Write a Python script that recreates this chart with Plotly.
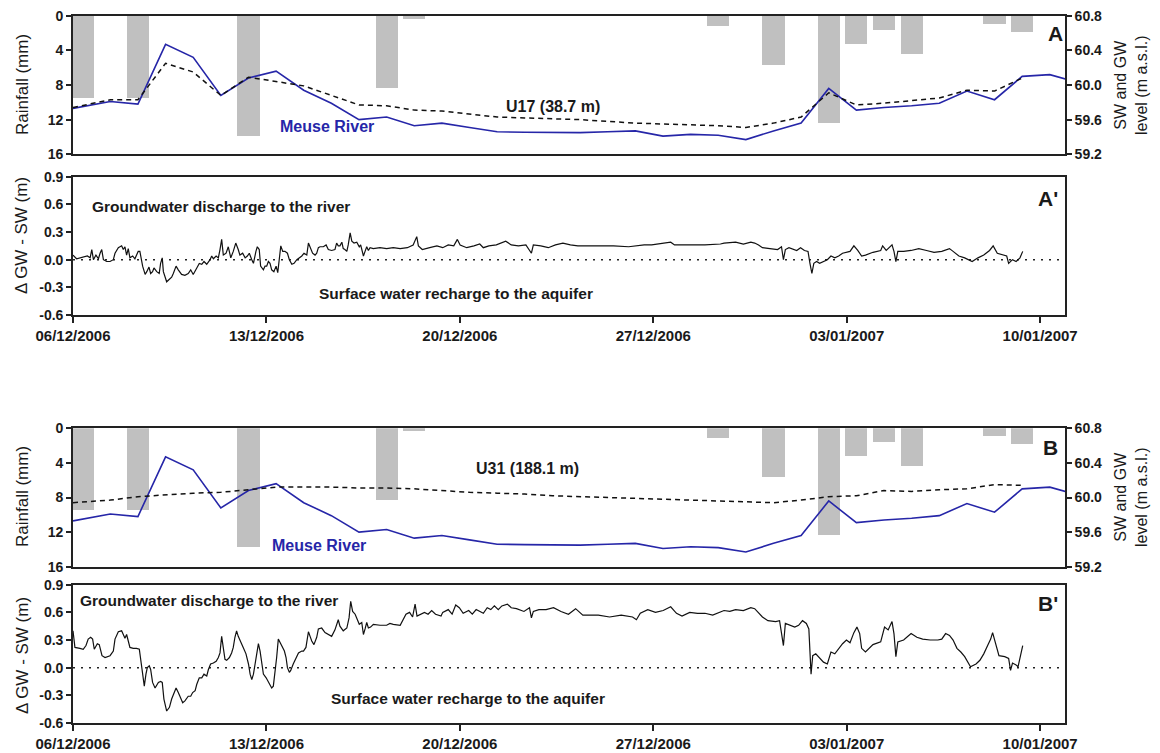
import pandas as pd
import plotly.graph_objects as go

# ---------------------------------------------------------------- data
START = pd.Timestamp("2006-12-06")
END = START + pd.Timedelta(days=35.9)

# daily rainfall (mm), day index counted from 06/12/2006
rain_day = [0, 2, 6, 11, 12, 23, 25, 27, 28, 29, 30, 33, 34]
rain_mm = [9.5, 9.5, 13.8, 8.3, 0.3, 1.2, 5.7, 12.4, 3.2, 1.65, 4.35, 0.9, 1.9]

# daily Meuse River stage (m a.s.l.), days 0..36
river_level = [59.73, 59.81, 59.78, 60.47, 60.32, 59.88, 60.08, 60.16, 59.94, 59.79,
               59.60, 59.63, 59.53, 59.56, 59.51, 59.46, 59.455, 59.45, 59.45, 59.46,
               59.47, 59.41, 59.43, 59.42, 59.37, 59.47, 59.56, 59.96, 59.71, 59.74,
               59.76, 59.79, 59.93, 59.83, 60.10, 60.12, 60.03]

# daily groundwater heads (m a.s.l.), days 0..34
gw_u17 = [59.74, 59.83, 59.83, 60.25, 60.15, 59.88, 60.09, 60.04, 59.99, 59.88,
          59.77, 59.76, 59.71, 59.70, 59.665, 59.63, 59.62, 59.61, 59.60, 59.58,
          59.56, 59.55, 59.54, 59.53, 59.51, 59.56, 59.63, 59.91, 59.77, 59.79,
          59.82, 59.85, 59.94, 59.93, 60.08]
gw_u31 = [59.94, 59.97, 60.01, 60.03, 60.05, 60.06, 60.09, 60.12, 60.12, 60.12,
          60.11, 60.11, 60.10, 60.08, 60.06, 60.05, 60.04, 60.02, 60.01, 60.00,
          59.99, 59.98, 59.97, 59.96, 59.95, 59.94, 59.97, 60.01, 60.02, 60.08,
          60.07, 60.09, 60.10, 60.15, 60.14]

# high-frequency head difference GW - SW (m), time in days since 06/12/2006
dh_u17_day = [0.0, 0.13, 0.52, 0.62, 0.68, 0.74, 0.83, 0.92, 0.98, 1.04,
              1.10, 1.22, 1.34, 1.46, 1.52, 1.64, 1.76, 1.82, 1.88, 1.94,
              2.00, 2.06, 2.16, 2.24, 2.36, 2.42, 2.52, 2.61, 2.67, 2.75,
              2.81, 2.88, 2.93, 3.03, 3.12, 3.17, 3.23, 3.27, 3.39, 3.48,
              3.57, 3.63, 3.73, 3.81, 3.93, 4.05, 4.17, 4.26, 4.35, 4.48,
              4.57, 4.66, 4.74, 4.84, 4.96, 5.02, 5.08, 5.18, 5.26, 5.32,
              5.38, 5.44, 5.54, 5.62, 5.71, 5.80, 5.89, 5.98, 6.04, 6.14,
              6.23, 6.31, 6.38, 6.47, 6.53, 6.62, 6.67, 6.74, 6.79, 6.89,
              6.95, 7.01, 7.07, 7.13, 7.19, 7.27, 7.35, 7.41, 7.47, 7.52,
              7.59, 7.67, 7.76, 7.83, 7.92, 8.00, 8.10, 8.19, 8.28, 8.36,
              8.46, 8.52, 8.58, 8.67, 8.76, 8.82, 8.88, 8.94, 9.06, 9.16,
              9.24, 9.36, 9.48, 9.54, 9.60, 9.66, 9.73, 9.78, 9.84, 9.91,
              9.96, 10.03, 10.09, 10.17, 10.27, 10.36, 10.41, 10.51, 10.57, 10.63,
              10.69, 10.75, 10.87, 11.11, 11.35, 11.59, 11.84, 12.10, 12.31, 12.44,
              12.50, 12.64, 12.91, 13.17, 13.38, 13.58, 13.78, 13.91, 14.01, 14.25,
              14.51, 14.72, 14.85, 15.05, 15.32, 15.52, 15.66, 15.86, 16.12, 16.39,
              16.59, 16.66, 16.93, 17.20, 17.46, 17.73, 18.00, 18.27, 18.45, 19.01,
              19.56, 20.11, 20.39, 20.67, 20.94, 21.22, 21.63, 21.77, 22.32, 22.87,
              23.43, 23.56, 23.98, 24.26, 24.53, 24.67, 24.81, 24.95, 25.22, 25.50,
              25.64, 25.71, 25.78, 25.91, 26.19, 26.33, 26.47, 26.60, 26.67, 26.74,
              26.81, 26.91, 27.02, 27.16, 27.30, 27.43, 27.57, 27.71, 27.85, 28.12,
              28.26, 28.40, 28.54, 28.68, 28.95, 29.23, 29.30, 29.43, 29.64, 29.71,
              29.78, 29.85, 30.06, 30.33, 30.61, 30.89, 31.16, 31.44, 31.72, 31.85,
              32.06, 32.27, 32.41, 32.54, 32.75, 32.96, 33.17, 33.30, 33.45, 33.65,
              33.79, 33.86, 34.00, 34.13, 34.27, 34.37]
dh_u17 = [0.05, 0.01, 0.04, 0.02, 0.11, 0.0, 0.05, 0.01, 0.07, 0.11,
          0.0, -0.02, -0.02, 0.0, 0.07, 0.13, 0.15, 0.11, 0.14, 0.05,
          0.12, 0.02, 0.04, 0.01, 0.09, 0.09, -0.07, -0.16, -0.13, -0.08,
          -0.15, -0.13, -0.09, -0.13, -0.15, -0.04, 0.02, -0.13, -0.24, -0.22,
          -0.19, -0.15, -0.07, -0.11, -0.16, -0.17, -0.15, -0.11, -0.16, -0.09,
          -0.04, -0.05, -0.02, -0.05, 0.0, 0.04, 0.01, 0.04, 0.02, 0.11,
          0.22, 0.05, 0.07, 0.14, 0.02, 0.09, 0.18, 0.11, 0.05, 0.07,
          0.02, 0.04, 0.07, 0.0, -0.04, 0.09, 0.14, 0.11, -0.07, -0.11,
          -0.07, -0.07, -0.02, -0.04, -0.11, -0.13, -0.07, -0.14, 0.07, 0.15,
          0.09, 0.09, 0.07, 0.0, -0.05, -0.04, 0.0, 0.02, 0.04, 0.07,
          0.05, 0.18, 0.14, 0.07, 0.05, 0.07, 0.13, 0.14, 0.14, 0.16,
          0.11, 0.10, 0.11, 0.18, 0.15, 0.15, 0.19, 0.12, 0.11, 0.09,
          0.16, 0.29, 0.20, 0.18, 0.19, 0.14, 0.16, 0.04, 0.09, 0.14,
          0.10, 0.13, 0.12, 0.13, 0.12, 0.13, 0.12, 0.13, 0.16, 0.25,
          0.15, 0.11, 0.13, 0.15, 0.13, 0.16, 0.15, 0.22, 0.16, 0.13,
          0.15, 0.17, 0.13, 0.15, 0.16, 0.18, 0.20, 0.16, 0.15, 0.16,
          0.07, 0.16, 0.15, 0.13, 0.16, 0.18, 0.16, 0.15, 0.15, 0.15,
          0.15, 0.14, 0.15, 0.16, 0.16, 0.17, 0.19, 0.16, 0.16, 0.16,
          0.17, 0.18, 0.19, 0.17, 0.19, 0.18, 0.16, 0.13, 0.12, 0.11,
          0.14, 0.0, 0.11, 0.13, 0.10, 0.13, 0.10, 0.09, -0.04, -0.15,
          -0.04, -0.02, -0.04, -0.02, 0.0, 0.04, 0.02, 0.04, 0.07, 0.09,
          0.15, 0.10, 0.04, 0.05, 0.08, 0.10, 0.15, 0.10, 0.16, 0.09,
          -0.02, 0.09, 0.09, 0.10, 0.12, 0.10, 0.08, 0.09, 0.12, 0.09,
          0.04, 0.02, 0.0, -0.02, 0.02, 0.05, 0.10, 0.15, 0.07, 0.05,
          0.04, -0.04, 0.0, -0.02, 0.02, 0.09]

dh_u31_day = [0.0, 0.07, 0.25, 0.37, 0.47, 0.55, 0.64, 0.71, 0.77, 0.83,
              0.88, 0.95, 1.00, 1.05, 1.16, 1.34, 1.46, 1.52, 1.64, 1.76,
              1.82, 1.88, 1.94, 2.00, 2.06, 2.18, 2.30, 2.40, 2.48, 2.55,
              2.58, 2.64, 2.69, 2.76, 2.81, 2.88, 2.97, 3.09, 3.17, 3.23,
              3.29, 3.39, 3.49, 3.57, 3.66, 3.73, 3.81, 3.90, 3.97, 4.05,
              4.17, 4.26, 4.33, 4.42, 4.48, 4.57, 4.66, 4.74, 4.84, 4.90,
              4.98, 5.08, 5.18, 5.26, 5.32, 5.38, 5.44, 5.50, 5.56, 5.66,
              5.74, 5.80, 5.86, 5.92, 5.98, 6.07, 6.16, 6.26, 6.35, 6.41,
              6.47, 6.53, 6.59, 6.65, 6.71, 6.77, 6.89, 6.99, 7.07, 7.19,
              7.25, 7.31, 7.37, 7.43, 7.49, 7.59, 7.65, 7.71, 7.76, 7.83,
              7.88, 7.97, 8.07, 8.16, 8.28, 8.34, 8.43, 8.52, 8.58, 8.64,
              8.72, 8.82, 8.88, 9.00, 9.12, 9.24, 9.36, 9.48, 9.54, 9.60,
              9.66, 9.73, 9.78, 9.91, 9.99, 10.05, 10.12, 10.21, 10.27, 10.36,
              10.45, 10.51, 10.57, 10.63, 10.69, 10.77, 10.87, 11.11, 11.35, 11.47,
              11.59, 11.84, 12.05, 12.18, 12.29, 12.38, 12.45, 12.58, 12.72, 12.85,
              12.98, 13.12, 13.32, 13.38, 13.58, 13.72, 13.85, 13.98, 14.12, 14.32,
              14.45, 14.59, 14.72, 14.85, 14.99, 15.12, 15.25, 15.39, 15.52, 15.72,
              15.86, 16.05, 16.32, 16.52, 16.59, 16.66, 16.86, 17.12, 17.39, 17.66,
              17.93, 18.19, 18.45, 19.01, 19.42, 19.84, 20.25, 20.39, 20.53, 20.80,
              21.08, 21.36, 21.63, 21.84, 22.04, 22.32, 22.60, 22.87, 23.15, 23.43,
              23.56, 23.77, 23.98, 24.26, 24.53, 24.67, 24.81, 24.95, 25.15, 25.43,
              25.57, 25.64, 25.71, 25.78, 25.98, 26.12, 26.26, 26.40, 26.54, 26.63,
              26.71, 26.77, 26.88, 27.02, 27.16, 27.30, 27.43, 27.57, 27.85, 27.99,
              28.12, 28.26, 28.37, 28.47, 28.54, 28.68, 28.82, 28.95, 29.23, 29.30,
              29.37, 29.50, 29.64, 29.71, 29.78, 29.85, 30.06, 30.33, 30.54, 30.75,
              31.02, 31.30, 31.44, 31.58, 31.72, 31.85, 31.99, 32.13, 32.27, 32.48,
              32.68, 32.82, 32.96, 33.10, 33.21, 33.28, 33.37, 33.51, 33.72, 33.86,
              33.93, 34.00, 34.13, 34.20, 34.37]
dh_u31 = [0.40, 0.22, 0.21, 0.20, 0.24, 0.31, 0.33, 0.31, 0.20, 0.24,
          0.26, 0.25, 0.18, 0.13, 0.11, 0.13, 0.18, 0.31, 0.39, 0.40,
          0.36, 0.32, 0.36, 0.27, 0.22, 0.21, 0.21, 0.20, 0.0, -0.16,
          -0.20, -0.07, 0.0, 0.02, -0.02, -0.16, -0.22, -0.16, -0.15, -0.16,
          -0.34, -0.47, -0.43, -0.34, -0.27, -0.22, -0.27, -0.34, -0.38, -0.36,
          -0.31, -0.31, -0.27, -0.25, -0.18, -0.11, -0.11, -0.07, -0.09, -0.02,
          0.04, 0.05, 0.07, 0.11, 0.16, 0.34, 0.18, 0.09, 0.08, 0.11,
          0.16, 0.22, 0.33, 0.40, 0.34, 0.27, 0.22, 0.15, 0.04, -0.07,
          -0.13, -0.07, 0.04, 0.16, 0.26, 0.18, -0.07, -0.11, -0.15, -0.22,
          -0.20, -0.07, 0.11, 0.31, 0.27, 0.22, 0.18, 0.11, 0.0, -0.05,
          -0.03, 0.04, 0.11, 0.16, 0.18, 0.18, 0.22, 0.39, 0.34, 0.29,
          0.25, 0.33, 0.42, 0.43, 0.38, 0.36, 0.34, 0.41, 0.47, 0.52,
          0.45, 0.42, 0.40, 0.43, 0.54, 0.72, 0.61, 0.58, 0.54, 0.47,
          0.49, 0.36, 0.42, 0.49, 0.43, 0.44, 0.47, 0.46, 0.46, 0.48,
          0.47, 0.46, 0.58, 0.60, 0.55, 0.69, 0.56, 0.58, 0.60, 0.58,
          0.62, 0.58, 0.56, 0.60, 0.63, 0.58, 0.68, 0.65, 0.59, 0.62,
          0.58, 0.63, 0.61, 0.59, 0.65, 0.63, 0.67, 0.63, 0.67, 0.69,
          0.65, 0.64, 0.61, 0.65, 0.54, 0.61, 0.63, 0.63, 0.65, 0.61,
          0.58, 0.64, 0.57, 0.57, 0.55, 0.57, 0.55, 0.52, 0.59, 0.63,
          0.60, 0.62, 0.66, 0.59, 0.56, 0.60, 0.59, 0.59, 0.57, 0.60,
          0.62, 0.61, 0.63, 0.62, 0.65, 0.64, 0.60, 0.55, 0.51, 0.50,
          0.51, 0.39, 0.24, 0.48, 0.46, 0.44, 0.46, 0.51, 0.48, 0.42,
          -0.07, 0.13, 0.15, 0.10, 0.06, 0.04, 0.17, 0.15, 0.26, 0.30,
          0.27, 0.38, 0.44, 0.37, 0.21, 0.17, 0.21, 0.25, 0.28, 0.37,
          0.44, 0.41, 0.50, 0.37, 0.12, 0.28, 0.30, 0.37, 0.33, 0.31,
          0.30, 0.30, 0.31, 0.37, 0.35, 0.30, 0.21, 0.17, 0.12, 0.01,
          0.04, 0.08, 0.15, 0.24, 0.31, 0.38, 0.28, 0.13, 0.12, 0.10,
          -0.03, 0.05, 0.03, 0.01, 0.24]

date_ticks = ["2006-12-06", "2006-12-13", "2006-12-20", "2006-12-27", "2007-01-03", "2007-01-10"]
date_labels = ["06/12/2006", "13/12/2006", "20/12/2006", "27/12/2006", "03/01/2007", "10/01/2007"]
rain_ticks = [0, 4, 8, 12, 16]
level_ticks = [59.2, 59.6, 60.0, 60.4, 60.8]
dh_ticks = [-0.6, -0.3, 0.0, 0.3, 0.6, 0.9]
dh_labels = ["-0.6", "-0.3", "0.0", "0.3", "0.6", "0.9"]

# ---------------------------------------------------------------- time stamps
def days_to_time(days, hour_offset=0.0):
    return [START + pd.Timedelta(days=d) + pd.Timedelta(hours=hour_offset) for d in days]

rain_time = days_to_time(rain_day, 8.4)
daily_time = [START] + days_to_time(range(1, len(river_level)), 8.4)
gw_time = daily_time[:len(gw_u17)]
dh_u17_time = days_to_time(dh_u17_day)
dh_u31_time = days_to_time(dh_u31_day)

# ---------------------------------------------------------------- styling
W, H = 1160, 753
FONT = "Arial, Liberation Sans, sans-serif"
INK = "#1a1a1a"
RIVER_BLUE = "#2626a8"
BAR_GREY = "#c0c0c0"


def px(x):
    return x / W


def py(y):
    return 1 - y / H


X_DOM = [px(73), px(1065)]
DOM_A = [py(154.3), py(15.7)]
DOM_A2 = [py(315), py(176.7)]
DOM_B = [py(566.7), py(428.3)]
DOM_B2 = [py(723), py(584.7)]

tick_font = dict(family=FONT, size=14, color=INK, weight="bold")
date_font = dict(family=FONT, size=15, color=INK, weight="bold")

fig = go.Figure()

panels = [
    # (x axis, rain y, level y, diff x, diff y, gw series, diff times, diff series)
    ("x", "y", "y2", "x2", "y3", gw_u17, dh_u17_time, dh_u17),
    ("x3", "y4", "y5", "x4", "y6", gw_u31, dh_u31_time, dh_u31),
]
for xa, yr, yl, xd, ydd, gw, dtime, dvals in panels:
    fig.add_trace(go.Bar(x=rain_time, y=rain_mm, xaxis=xa, yaxis=yr,
                         marker=dict(color=BAR_GREY, line=dict(width=0)),
                         width=0.8 * 86400000, hoverinfo="x+y"))
    fig.add_trace(go.Scatter(x=daily_time, y=river_level, xaxis=xa, yaxis=yl,
                             mode="lines", line=dict(color=RIVER_BLUE, width=1.6)))
    fig.add_trace(go.Scatter(x=gw_time, y=gw, xaxis=xa, yaxis=yl, mode="lines",
                             line=dict(color="#111111", width=1.5, dash="5px,4px")))
    fig.add_trace(go.Scatter(x=dtime, y=dvals, xaxis=xd, yaxis=ydd, mode="lines",
                             line=dict(color="#111111", width=1.2)))

frame = dict(showline=True, linecolor="#222222", linewidth=1.6, mirror=True,
             showgrid=False, zeroline=False, automargin=False)

x_common = dict(type="date", range=[START, END], domain=X_DOM, **frame)
x_plain = dict(x_common, showticklabels=False, ticks="")
x_dated = dict(x_common, tickmode="array", tickvals=date_ticks, ticktext=date_labels,
               ticks="outside", ticklen=6, tickwidth=1.5, tickcolor="#222222",
               tickfont=date_font)

rain_axis = dict(range=[16, 0], tickmode="array", tickvals=rain_ticks, ticks="outside",
                 ticklen=5, tickwidth=1.5, tickcolor="#222222", tickfont=tick_font, **frame)
level_axis = dict(range=[59.2, 60.8], side="right", tickmode="array", tickvals=level_ticks,
                  tickformat=".1f", ticks="outside", ticklen=5, tickwidth=1.5,
                  tickcolor="#222222", tickfont=tick_font, showline=True,
                  linecolor="#222222", linewidth=1.6, showgrid=False, zeroline=False,
                  automargin=False)
dh_axis = dict(range=[-0.6, 0.9], tickmode="array", tickvals=dh_ticks, ticktext=dh_labels,
               ticks="outside", ticklen=5, tickwidth=1.5, tickcolor="#222222",
               tickfont=tick_font, **frame)

fig.update_layout(
    width=W, height=H, margin=dict(l=0, r=0, t=0, b=0, autoexpand=False),
    paper_bgcolor="white", plot_bgcolor="white", showlegend=False, bargap=0,
    font=dict(family=FONT, color=INK),
    xaxis=dict(x_plain, anchor="y"),
    xaxis2=dict(x_dated, anchor="y3"),
    xaxis3=dict(x_plain, anchor="y4"),
    xaxis4=dict(x_dated, anchor="y6"),
    yaxis=dict(rain_axis, domain=DOM_A, anchor="x"),
    yaxis2=dict(level_axis, overlaying="y", anchor="x"),
    yaxis3=dict(dh_axis, domain=DOM_A2, anchor="x2"),
    yaxis4=dict(rain_axis, domain=DOM_B, anchor="x3"),
    yaxis5=dict(level_axis, overlaying="y4", anchor="x3"),
    yaxis6=dict(dh_axis, domain=DOM_B2, anchor="x4"),
)

# dotted zero line in the head-difference panels
for xr, yr in (("x2", "y3"), ("x4", "y6")):
    fig.add_shape(type="line", xref=f"{xr} domain", yref=yr, x0=0, x1=1, y0=0, y1=0,
                  line=dict(color="#222222", width=1.6, dash="2px,6px"), layer="below")


def label(text, x, y, size, bold=False, color=INK, angle=0, xanchor="center"):
    fig.add_annotation(text=text, x=px(x), y=py(y), xref="paper", yref="paper",
                       showarrow=False, textangle=angle, xanchor=xanchor, yanchor="middle",
                       font=dict(family=FONT, size=size, color=color,
                                 weight="bold" if bold else "normal"))


# axis titles
for mid in (85, 497):
    label("Rainfall (mm)", 22, mid, 17, angle=-90)
    label("SW and GW<br>level (m a.s.l.)", 1131, mid, 16, angle=-90)
label("\u0394 GW - SW (m)", 22, 236, 17, angle=-90)
label("\u0394 GW - SW (m)", 22, 656, 17, angle=-90)

# panel letters
label("A", 1055, 34, 21, bold=True)
label("A'", 1048, 198, 21, bold=True)
label("B", 1050, 447, 21, bold=True)
label("B'", 1048, 603, 21, bold=True)

# in-panel notes
label("U17 (38.7 m)", 553, 107, 16, bold=True)
label("Meuse River", 327, 127, 16, bold=True, color=RIVER_BLUE)
label("U31 (188.1 m)", 527, 468, 16, bold=True)
label("Meuse River", 319, 545, 16, bold=True, color=RIVER_BLUE)
label("Groundwater discharge to the river", 90, 207, 15.5, bold=True, xanchor="left")
label("Surface water recharge to the aquifer", 317, 293, 15.5, bold=True, xanchor="left")
label("Groundwater discharge to the river", 78, 600, 15.5, bold=True, xanchor="left")
label("Surface water recharge to the aquifer", 329, 698, 15.5, bold=True, xanchor="left")

fig.write_html("out.html")
